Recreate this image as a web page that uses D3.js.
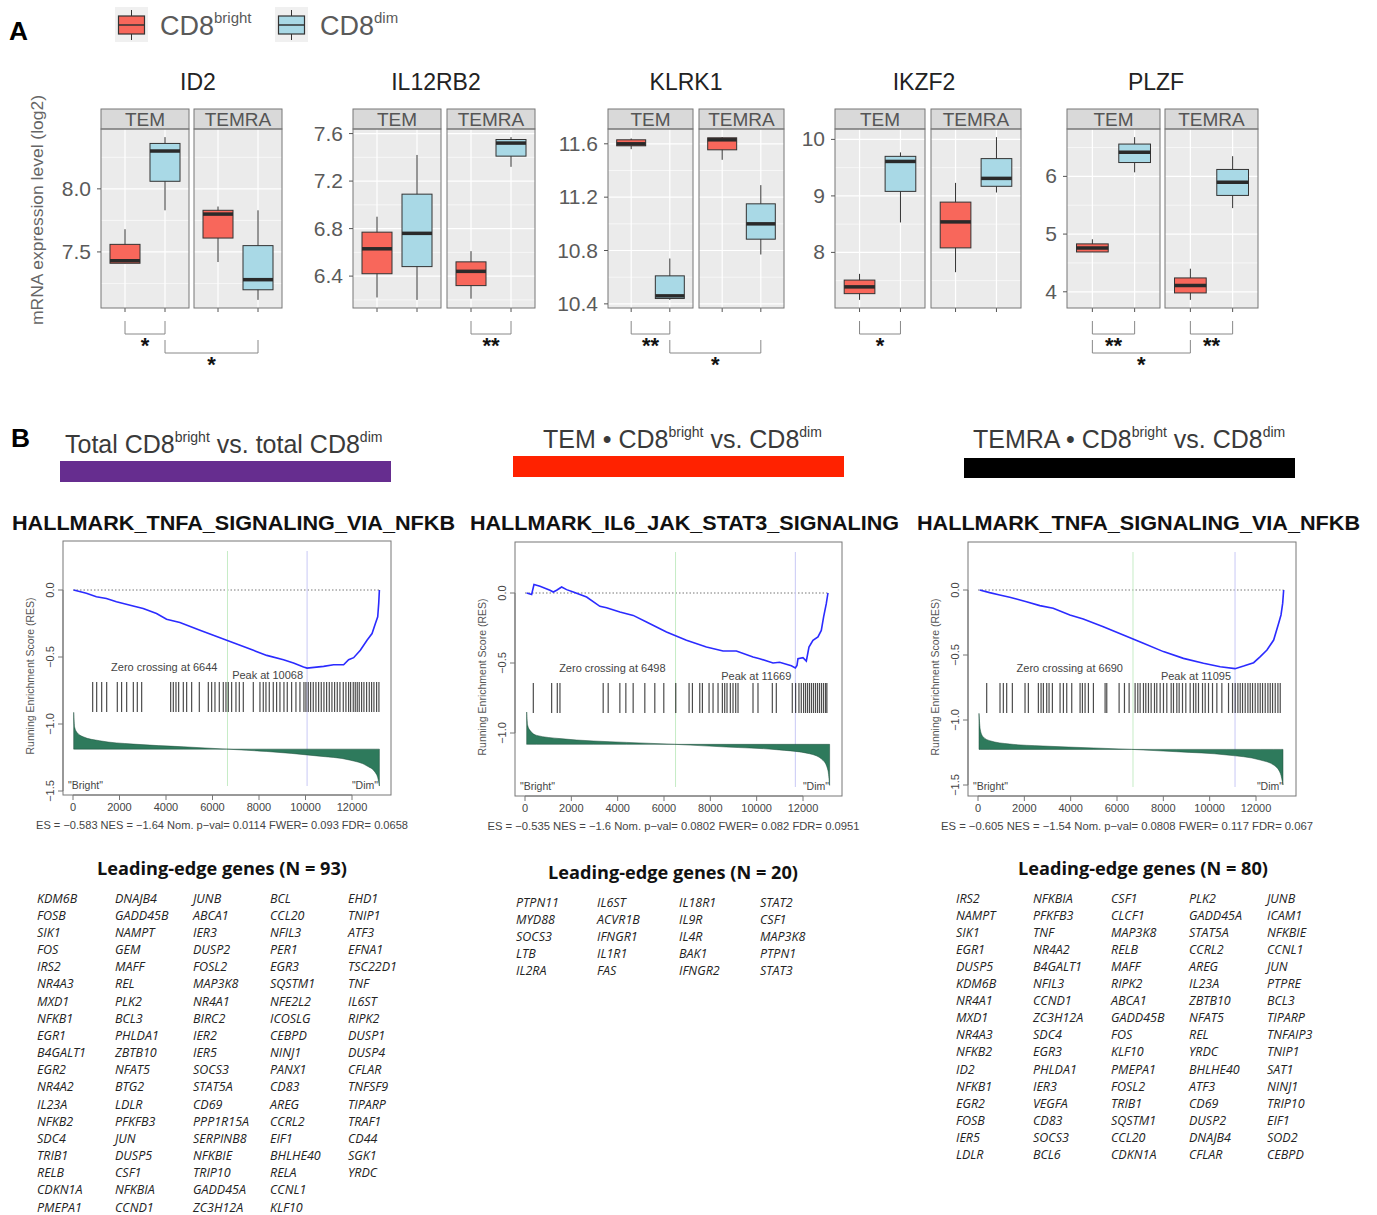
<!DOCTYPE html>
<html lang="en">
<head>
<meta charset="UTF-8">
<title>CD8 bright vs dim</title>
<script src="https://d3js.org/d3.v7.min.js"></script>
<style>
  body { margin: 0; background: #fff; }
  text { font-family: "Liberation Sans", Arial, sans-serif; }
  .gene { font-family: "Open Sans", sans-serif; font-style: italic; font-size: 12.5px; fill: #222; }
  .lehead { font-family: "Open Sans", sans-serif; font-weight: 700; font-size: 17px; fill: #111; }
</style>
</head>
<body>
<div id="fig"></div>
<script>
// ---------------- Panel A data ----------------
const geneNames = ["ID2", "IL12RB2", "KLRK1", "IKZF2", "PLZF"];
const subsets = ["TEM", "TEMRA"];
const groups = ["bright", "dim"];
// [low whisker, q1, median, q3, high whisker]; order: TEM bright, TEM dim, TEMRA bright, TEMRA dim
const id2Box = [[7.41, 7.41, 7.43, 7.56, 7.68], [7.83, 8.06, 8.30, 8.36, 8.41], [7.42, 7.61, 7.80, 7.83, 7.86], [7.12, 7.20, 7.28, 7.55, 7.83]];
const il12rb2Box = [[6.22, 6.42, 6.63, 6.77, 6.90], [6.20, 6.48, 6.76, 7.09, 7.42], [6.21, 6.32, 6.44, 6.52, 6.61], [7.32, 7.41, 7.52, 7.55, 7.57]];
const klrk1Box = [[11.56, 11.585, 11.60, 11.63, 11.64], [10.43, 10.44, 10.46, 10.61, 10.74], [11.48, 11.555, 11.63, 11.645, 11.65], [10.77, 10.885, 11.00, 11.15, 11.29]];
const ikzf2Box = [[7.16, 7.27, 7.39, 7.51, 7.62], [8.53, 9.08, 9.61, 9.70, 9.77], [7.65, 8.08, 8.54, 8.89, 9.23], [9.06, 9.17, 9.31, 9.66, 10.04]];
const plzfBox = [[4.69, 4.69, 4.76, 4.83, 4.91], [6.07, 6.24, 6.42, 6.56, 6.68], [3.86, 3.98, 4.11, 4.24, 4.40], [5.45, 5.67, 5.90, 6.12, 6.35]];
const id2Ticks = [7.5, 8.0], id2TickLabels = ["7.5", "8.0"];
const il12rb2Ticks = [6.4, 6.8, 7.2, 7.6], il12rb2TickLabels = ["6.4", "6.8", "7.2", "7.6"];
const klrk1Ticks = [10.4, 10.8, 11.2, 11.6], klrk1TickLabels = ["10.4", "10.8", "11.2", "11.6"];
const ikzf2Ticks = [8, 9, 10], ikzf2TickLabels = ["8", "9", "10"];
const plzfTicks = [4, 5, 6], plzfTickLabels = ["4", "5", "6"];
// significance brackets: from [subset, group] to [subset, group]
const significance = [
  { gene: "ID2", a: [0, 0], b: [0, 1], level: 0, label: "*" },
  { gene: "ID2", a: [0, 1], b: [1, 1], level: 1, label: "*" },
  { gene: "IL12RB2", a: [1, 0], b: [1, 1], level: 0, label: "**" },
  { gene: "KLRK1", a: [0, 0], b: [0, 1], level: 0, label: "**" },
  { gene: "KLRK1", a: [0, 1], b: [1, 1], level: 1, label: "*" },
  { gene: "IKZF2", a: [0, 0], b: [0, 1], level: 0, label: "*" },
  { gene: "PLZF", a: [0, 0], b: [0, 1], level: 0, label: "**" },
  { gene: "PLZF", a: [1, 0], b: [1, 1], level: 0, label: "**" },
  { gene: "PLZF", a: [0, 0], b: [1, 0], level: 1, label: "*" }
];

// ---------------- Panel B data ----------------
const comparisonTitles = [["Total CD8", "bright", " vs. total CD8", "dim"], ["TEM \u2022 CD8", "bright", " vs. CD8", "dim"], ["TEMRA \u2022 CD8", "bright", " vs. CD8", "dim"]];
const comparisonColors = ["#662d8f", "#ff2200", "#000000"];
const hallmarkNames = ["HALLMARK_TNFA_SIGNALING_VIA_NFKB", "HALLMARK_IL6_JAK_STAT3_SIGNALING", "HALLMARK_TNFA_SIGNALING_VIA_NFKB"];
const zeroCrossings = [6644, 6498, 6690];
const peaks = [10068, 11669, 11095];
const statLines = [
  "ES = \u22120.583  NES = \u22121.64 Nom. p\u2212val= 0.0114 FWER= 0.093 FDR= 0.0658",
  "ES = \u22120.535  NES = \u22121.6 Nom. p\u2212val= 0.0802 FWER= 0.082 FDR= 0.0951",
  "ES = \u22120.605  NES = \u22121.54 Nom. p\u2212val= 0.0808 FWER= 0.117 FDR= 0.067"
];
// running enrichment score [rank, RES]
const esTotal = [[29, 0], [575, -0.025], [1006, -0.05], [1437, -0.063], [1868, -0.088], [2587, -0.12], [3018, -0.138], [3593, -0.175], [4024, -0.218], [4598, -0.243], [5461, -0.30], [6610, -0.375], [7760, -0.45], [8335, -0.488], [9053, -0.52], [9484, -0.545], [9915, -0.575], [10068, -0.583], [10778, -0.57], [11209, -0.558], [11640, -0.558], [11855, -0.52], [12071, -0.505], [12358, -0.45], [12646, -0.375], [12862, -0.325], [13006, -0.25], [13106, -0.2], [13149, -0.1], [13178, 0]];
const esTem = [[72, 0], [287, -0.01], [388, 0.06], [647, 0.048], [1078, 0.02], [1221, 0.007], [1365, 0.02], [1581, 0.043], [1796, 0.024], [2084, 0.007], [2659, -0.029], [3233, -0.095], [3521, -0.105], [4096, -0.136], [4670, -0.16], [5245, -0.207], [6107, -0.279], [6969, -0.338], [7832, -0.386], [8550, -0.414], [9125, -0.414], [9843, -0.457], [10130, -0.469], [10705, -0.5], [10992, -0.495], [11496, -0.52], [11669, -0.535], [11740, -0.517], [11783, -0.469], [11999, -0.462], [12143, -0.486], [12258, -0.386], [12430, -0.338], [12646, -0.314], [12790, -0.267], [12890, -0.171], [13005, -0.076], [13077, 0]];
const esTemra = [[72, 0], [505, -0.02], [937, -0.038], [1370, -0.056], [1658, -0.069], [2091, -0.09], [2668, -0.12], [3245, -0.141], [3966, -0.192], [4542, -0.223], [5408, -0.282], [6273, -0.346], [7138, -0.41], [8003, -0.474], [8868, -0.526], [9734, -0.564], [10455, -0.59], [11095, -0.605], [11464, -0.585], [11897, -0.559], [12185, -0.513], [12473, -0.462], [12762, -0.385], [12978, -0.256], [13079, -0.192], [13151, -0.103], [13194, 0]];
// gene set hit ranks
const hitsTotal = [846, 1018, 1233, 1448, 1906, 2090, 2308, 2595, 2766, 2953, 4200, 4315, 4429, 4544, 4745, 4888, 5103, 5433, 5820, 5963, 6106, 6292, 6464, 6579, 6680, 6823, 7009, 7153, 7325, 7755, 8041, 8184, 8299, 8442, 8614, 8757, 8901, 9073, 9216, 9403, 9589, 9761, 9933, 10019, 10119, 10220, 10334, 10449, 10564, 10678, 10793, 10908, 11023, 11137, 11252, 11367, 11481, 11625, 11739, 11854, 11940, 12054, 12140, 12226, 12312, 12413, 12513, 12628, 12743, 12843, 12943, 13058, 13158];
const hitsTem = [359, 1150, 1394, 1509, 3375, 3591, 4095, 4353, 4669, 5172, 5603, 5991, 6508, 7082, 7227, 7543, 7658, 7945, 8117, 8333, 8520, 8620, 8720, 8864, 8979, 9095, 9195, 9842, 10057, 10676, 10848, 11538, 11682, 11825, 11926, 12026, 12112, 12199, 12285, 12371, 12457, 12543, 12629, 12715, 12801, 12887, 12973, 13031];
const hitsTemra = [375, 950, 1094, 1238, 1483, 2030, 2174, 2606, 2722, 2822, 2966, 3067, 3211, 3542, 3686, 3830, 4046, 4406, 4507, 4622, 4766, 4982, 5486, 5558, 6091, 6322, 6523, 6782, 6898, 6998, 7142, 7243, 7358, 7474, 7618, 7718, 7862, 8006, 8150, 8338, 8438, 8582, 8683, 8827, 8971, 9158, 9302, 9403, 9518, 9691, 9806, 9950, 10123, 10310, 10526, 10814, 10987, 11102, 11218, 11318, 11419, 11534, 11650, 11750, 11851, 11966, 12082, 12182, 12283, 12398, 12514, 12614, 12715, 12830, 12946, 13046];
// ranked list metric drawn in RES units [rank, value]; baseline value separately
const metricTotal = [[29, -0.913], [72, -1.025], [172, -1.063], [431, -1.095], [1150, -1.125], [2587, -1.15], [4742, -1.17], [6610, -1.1875], [8335, -1.205], [10490, -1.238], [11927, -1.27], [12646, -1.313], [13006, -1.363], [13106, -1.40], [13178, -1.463]];
const metricTem = [[72, -0.85], [115, -0.945], [216, -0.981], [503, -1.017], [1509, -1.040], [2946, -1.057], [4383, -1.067], [6467, -1.081], [8694, -1.100], [10849, -1.119], [12286, -1.148], [12862, -1.195], [13077, -1.267], [13149, -1.374]];
const metricTemra = [[43, -0.949], [101, -1.077], [216, -1.128], [505, -1.159], [1370, -1.185], [2812, -1.20], [4975, -1.215], [6633, -1.226], [8580, -1.244], [10743, -1.269], [12185, -1.308], [12762, -1.346], [13050, -1.41], [13165, -1.50]];
const metricBaselines = [-1.1875, -1.081, -1.226];
const xTicks = [0, 2000, 4000, 6000, 8000, 10000, 12000];

// leading-edge genes (columns)
const leadingTotal = [
  ["KDM6B", "FOSB", "SIK1", "FOS", "IRS2", "NR4A3", "MXD1", "NFKB1", "EGR1", "B4GALT1", "EGR2", "NR4A2", "IL23A", "NFKB2", "SDC4", "TRIB1", "RELB", "CDKN1A", "PMEPA1"],
  ["DNAJB4", "GADD45B", "NAMPT", "GEM", "MAFF", "REL", "PLK2", "BCL3", "PHLDA1", "ZBTB10", "NFAT5", "BTG2", "LDLR", "PFKFB3", "JUN", "DUSP5", "CSF1", "NFKBIA", "CCND1"],
  ["JUNB", "ABCA1", "IER3", "DUSP2", "FOSL2", "MAP3K8", "NR4A1", "BIRC2", "IER2", "IER5", "SOCS3", "STAT5A", "CD69", "PPP1R15A", "SERPINB8", "NFKBIE", "TRIP10", "GADD45A", "ZC3H12A"],
  ["BCL", "CCL20", "NFIL3", "PER1", "EGR3", "SQSTM1", "NFE2L2", "ICOSLG", "CEBPD", "NINJ1", "PANX1", "CD83", "AREG", "CCRL2", "EIF1", "BHLHE40", "RELA", "CCNL1", "KLF10"],
  ["EHD1", "TNIP1", "ATF3", "EFNA1", "TSC22D1", "TNF", "IL6ST", "RIPK2", "DUSP1", "DUSP4", "CFLAR", "TNFSF9", "TIPARP", "TRAF1", "CD44", "SGK1", "YRDC"]
];
const leadingTem = [
  ["PTPN11", "MYD88", "SOCS3", "LTB", "IL2RA"],
  ["IL6ST", "ACVR1B", "IFNGR1", "IL1R1", "FAS"],
  ["IL18R1", "IL9R", "IL4R", "BAK1", "IFNGR2"],
  ["STAT2", "CSF1", "MAP3K8", "PTPN1", "STAT3"]
];
const leadingTemra = [
  ["IRS2", "NAMPT", "SIK1", "EGR1", "DUSP5", "KDM6B", "NR4A1", "MXD1", "NR4A3", "NFKB2", "ID2", "NFKB1", "EGR2", "FOSB", "IER5", "LDLR"],
  ["NFKBIA", "PFKFB3", "TNF", "NR4A2", "B4GALT1", "NFIL3", "CCND1", "ZC3H12A", "SDC4", "EGR3", "PHLDA1", "IER3", "VEGFA", "CD83", "SOCS3", "BCL6"],
  ["CSF1", "CLCF1", "MAP3K8", "RELB", "MAFF", "RIPK2", "ABCA1", "GADD45B", "FOS", "KLF10", "PMEPA1", "FOSL2", "TRIB1", "SQSTM1", "CCL20", "CDKN1A"],
  ["PLK2", "GADD45A", "STAT5A", "CCRL2", "AREG", "IL23A", "ZBTB10", "NFAT5", "REL", "YRDC", "BHLHE40", "ATF3", "CD69", "DUSP2", "DNAJB4", "CFLAR"],
  ["JUNB", "ICAM1", "NFKBIE", "CCNL1", "JUN", "PTPRE", "BCL3", "TIPARP", "TNFAIP3", "TNIP1", "SAT1", "NINJ1", "TRIP10", "EIF1", "SOD2", "CEBPD"]
];

// ---------------- setup ----------------
const W = 1377, H = 1215;
const brightFill = "#f8675b", dimFill = "#a9d9e6";
const svg = d3.select("#fig").append("svg").attr("width", W).attr("height", H);

function supText(sel, parts, big, small, rise) {
  parts.forEach((p, i) => {
    const isSup = i % 2 === 1;
    sel.append("tspan")
      .attr("font-size", isSup ? small : big)
      .attr("dy", isSup ? -rise : (i === 0 ? 0 : rise))
      .text(p);
  });
}

// ---------------- Panel A ----------------
svg.append("text").attr("x", 9).attr("y", 40)
  .attr("font-size", 25).attr("font-weight", 900).attr("font-family", "DejaVu Sans, sans-serif")
  .attr("textLength", 19).attr("lengthAdjust", "spacingAndGlyphs").text("A");

// legend
[{ g: "bright", fill: brightFill, x: 115 }, { g: "dim", fill: dimFill, x: 275 }].forEach(it => {
  const k = svg.append("g");
  k.append("rect").attr("x", it.x).attr("y", 7).attr("width", 33).attr("height", 35).attr("fill", "#f0f0f0");
  k.append("line").attr("x1", it.x + 16.5).attr("x2", it.x + 16.5).attr("y1", 10).attr("y2", 40).attr("stroke", "#333");
  k.append("rect").attr("x", it.x + 3.5).attr("y", 16).attr("width", 26).attr("height", 18)
    .attr("fill", it.fill).attr("stroke", "#333").attr("stroke-width", 1.2);
  k.append("line").attr("x1", it.x + 3.5).attr("x2", it.x + 29.5).attr("y1", 25).attr("y2", 25).attr("stroke", "#333").attr("stroke-width", 1.5);
  const t = k.append("text").attr("x", it.x + 45).attr("y", 35).attr("fill", "#5a5a5a");
  supText(t, ["CD8", it.g], 27, 15, 12);
});

svg.append("text")
  .attr("transform", "translate(43,210) rotate(-90)")
  .attr("text-anchor", "middle").attr("font-size", 17).attr("fill", "#666")
  .attr("textLength", 230).attr("lengthAdjust", "spacingAndGlyphs")
  .text("mRNA expression level (log2)");

const boxSets = [id2Box, il12rb2Box, klrk1Box, ikzf2Box, plzfBox];
const tickSets = [id2Ticks, il12rb2Ticks, klrk1Ticks, ikzf2Ticks, plzfTicks];
const tickLabelSets = [id2TickLabels, il12rb2TickLabels, klrk1TickLabels, ikzf2TickLabels, plzfTickLabels];
// facet layout: left edge of TEM facet, width, gap, title centre
const facetLayout = [[101, 88, 5, 198], [353, 88, 6, 436], [608, 85, 6, 686], [835, 90, 6, 924], [1067, 93, 5, 1156]];
const stripTop = 109, stripH = 20, panelTop = 129, panelBottom = 308;

const xPositions = {};

geneNames.forEach((gene, gi) => {
  const [x0, fw, gap, tx] = facetLayout[gi];
  const stats = boxSets[gi];
  const lo = d3.min(stats, d => d[0]), hi = d3.max(stats, d => d[4]);
  const pad = (hi - lo) * 0.05;
  const y = d3.scaleLinear().domain([lo - pad, hi + pad]).range([panelBottom, panelTop]);
  const ticks = tickSets[gi];
  const step = ticks[1] - ticks[0];
  const minor = [];
  for (let v = ticks[0] - step / 2; v <= y.domain()[1]; v += step) {
    if (v >= y.domain()[0]) minor.push(v);
  }
  const g = svg.append("g");

  g.append("text").attr("x", tx).attr("y", 90)
    .attr("text-anchor", "middle").attr("font-size", 23).attr("fill", "#222")
    .attr("font-family", "Open Sans, sans-serif").text(gene);

  xPositions[gene] = [];
  subsets.forEach((sub, si) => {
    const fx = x0 + si * (fw + gap);
    const x = d3.scalePoint().domain(groups).range([fx, fx + fw]).padding(0.6);
    xPositions[gene].push(x);
    const bw = x.step() * 0.75;

    g.append("rect").attr("x", fx).attr("y", panelTop).attr("width", fw).attr("height", panelBottom - panelTop).attr("fill", "#ebebeb");
    g.selectAll(null).data(minor).enter().append("line")
      .attr("x1", fx).attr("x2", fx + fw).attr("y1", d => y(d)).attr("y2", d => y(d))
      .attr("stroke", "#fff").attr("stroke-width", 0.6);
    g.selectAll(null).data(ticks).enter().append("line")
      .attr("x1", fx).attr("x2", fx + fw).attr("y1", d => y(d)).attr("y2", d => y(d))
      .attr("stroke", "#fff").attr("stroke-width", 1.2);
    g.selectAll(null).data(groups).enter().append("line")
      .attr("x1", d => x(d)).attr("x2", d => x(d)).attr("y1", panelTop).attr("y2", panelBottom)
      .attr("stroke", "#fff").attr("stroke-width", 1.2);

    groups.forEach((grp, k) => {
      const s = stats[si * 2 + k];
      const cx = x(grp);
      g.append("line").attr("x1", cx).attr("x2", cx).attr("y1", y(s[4])).attr("y2", y(s[0]))
        .attr("stroke", "#333").attr("stroke-width", 1);
      g.append("rect").attr("x", cx - bw / 2).attr("y", y(s[3])).attr("width", bw)
        .attr("height", Math.max(1, y(s[1]) - y(s[3])))
        .attr("fill", k === 0 ? brightFill : dimFill).attr("stroke", "#333").attr("stroke-width", 1);
      g.append("line").attr("x1", cx - bw / 2).attr("x2", cx + bw / 2).attr("y1", y(s[2])).attr("y2", y(s[2]))
        .attr("stroke", "#2a2a2a").attr("stroke-width", 3.5);
    });

    // x ticks without labels
    g.selectAll(null).data(groups).enter().append("line")
      .attr("x1", d => x(d)).attr("x2", d => x(d)).attr("y1", panelBottom).attr("y2", panelBottom + 4)
      .attr("stroke", "#555");

    g.append("rect").attr("x", fx).attr("y", stripTop).attr("width", fw).attr("height", stripH)
      .attr("fill", "#d9d9d9").attr("stroke", "#777").attr("stroke-width", 1);
    g.append("rect").attr("x", fx).attr("y", panelTop).attr("width", fw).attr("height", panelBottom - panelTop)
      .attr("fill", "none").attr("stroke", "#777").attr("stroke-width", 1);
    g.append("text").attr("x", fx + fw / 2).attr("y", stripTop + 17)
      .attr("text-anchor", "middle").attr("font-size", 19).attr("fill", "#555").text(sub);
  });

  // y axis
  g.selectAll(null).data(ticks).enter().append("line")
    .attr("x1", x0 - 4).attr("x2", x0).attr("y1", d => y(d)).attr("y2", d => y(d)).attr("stroke", "#555");
  g.selectAll(null).data(ticks).enter().append("text")
    .attr("x", x0 - 10).attr("y", d => y(d) + 7)
    .attr("text-anchor", "end").attr("font-size", 21).attr("fill", "#5a5a5a")
    .text((d, i) => tickLabelSets[gi][i]);
});

// significance brackets
const levelY = [[321, 334, 353], [340, 353, 372]];
significance.forEach(s => {
  const xs = xPositions[s.gene];
  const xa = xs[s.a[0]](groups[s.a[1]]), xb = xs[s.b[0]](groups[s.b[1]]);
  const [ya, yb, yl] = levelY[s.level];
  svg.append("path").attr("d", `M${xa},${ya}V${yb}H${xb}V${ya}`)
    .attr("fill", "none").attr("stroke", "#888").attr("stroke-width", 1);
  svg.append("text").attr("x", (xa + xb) / 2).attr("y", yl)
    .attr("text-anchor", "middle").attr("font-size", 22).attr("font-weight", 700).attr("fill", "#111")
    .text(s.label);
});

// ---------------- Panel B ----------------
svg.append("text").attr("x", 11).attr("y", 447)
  .attr("font-size", 25).attr("font-weight", 900).attr("font-family", "DejaVu Sans, sans-serif")
  .attr("textLength", 19).attr("lengthAdjust", "spacingAndGlyphs").text("B");

const gseaLayout = [
  { left: 63, right: 391, top: 541, bottom: 795, x0: 73, x12: 352, y0: 590, y5: 657, titleX: 65, titleY: 453, bar: [60, 391, 461, 482], hm: [12, 443], yTicks: [0, -0.5, -1, -1.5] },
  { left: 515, right: 842, top: 542, bottom: 796, x0: 525, x12: 803, y0: 593, y5: 663, titleX: 543, titleY: 448, bar: [513, 844, 456, 477], hm: [470, 429], yTicks: [0, -0.5, -1] },
  { left: 968, right: 1296, top: 542, bottom: 796, x0: 978, x12: 1256, y0: 590, y5: 655, titleX: 973, titleY: 448, bar: [964, 1295, 458, 478], hm: [917, 443], yTicks: [0, -0.5, -1, -1.5] }
];
const esSets = [esTotal, esTem, esTemra];
const hitSets = [hitsTotal, hitsTem, hitsTemra];
const metricSets = [metricTotal, metricTem, metricTemra];
const yTickLabel = v => v === 0 ? "0.0" : "\u2212" + Math.abs(v).toFixed(1);

gseaLayout.forEach((L, i) => {
  const g = svg.append("g");
  const x = d3.scaleLinear().domain([0, 12000]).range([L.x0, L.x12]);
  const y = d3.scaleLinear().domain([0, -0.5]).range([L.y0, L.y5]);

  const t = g.append("text").attr("x", L.titleX).attr("y", L.titleY).attr("fill", "#3a3a3a");
  supText(t, comparisonTitles[i], 25, 14, 11);
  g.append("rect").attr("x", L.bar[0]).attr("y", L.bar[2]).attr("width", L.bar[1] - L.bar[0]).attr("height", L.bar[3] - L.bar[2])
    .attr("fill", comparisonColors[i]);

  g.append("text").attr("x", L.hm[0]).attr("y", 530)
    .attr("font-size", 21).attr("font-weight", 700).attr("fill", "#111")
    .attr("textLength", L.hm[1]).attr("lengthAdjust", "spacingAndGlyphs").text(hallmarkNames[i]);

  // guide lines
  const lastRank = esSets[i][esSets[i].length - 1][0];
  g.append("line").attr("x1", x(0)).attr("x2", x(lastRank)).attr("y1", y(0)).attr("y2", y(0))
    .attr("stroke", "#777").attr("stroke-dasharray", "1.5,2");
  g.append("line").attr("x1", x(zeroCrossings[i])).attr("x2", x(zeroCrossings[i])).attr("y1", L.top + 10).attr("y2", L.bottom - 9)
    .attr("stroke", "#c6ecc6").attr("stroke-width", 1);
  g.append("line").attr("x1", x(peaks[i])).attr("x2", x(peaks[i])).attr("y1", L.top + 10).attr("y2", L.bottom - 9)
    .attr("stroke", "#c8c8f5").attr("stroke-width", 1);

  // ranked metric
  const base = metricBaselines[i];
  g.append("path").datum(metricSets[i])
    .attr("d", d3.area().x(d => x(d[0])).y0(y(base)).y1(d => y(d[1])).curve(d3.curveMonotoneX))
    .attr("fill", "#2e7a5c").attr("stroke", "#1d4d3a").attr("stroke-width", 0.5);

  // hits
  g.selectAll(null).data(hitSets[i]).enter().append("line")
    .attr("x1", d => x(d)).attr("x2", d => x(d)).attr("y1", L.top + 141).attr("y2", L.top + 171)
    .attr("stroke", "#000").attr("stroke-opacity", 0.7).attr("stroke-width", 1.2);

  // ES curve
  g.append("path").datum(esSets[i])
    .attr("d", d3.line().x(d => x(d[0])).y(d => y(d[1])))
    .attr("fill", "none").attr("stroke", "#2b2bff").attr("stroke-width", 1.6);

  g.append("text").attr("x", x(zeroCrossings[i]) - 10).attr("y", L.top + 130)
    .attr("text-anchor", "end").attr("font-size", 11).attr("fill", "#444").text("Zero crossing at " + zeroCrossings[i]);
  g.append("text").attr("x", x(peaks[i]) - 4).attr("y", L.top + 138)
    .attr("text-anchor", "end").attr("font-size", 11).attr("fill", "#444").text("Peak at " + peaks[i]);
  g.append("text").attr("x", L.left + 5).attr("y", L.bottom - 6)
    .attr("font-size", 10.5).attr("fill", "#444").text('"Bright"');
  g.append("text").attr("x", L.right - 13).attr("y", L.bottom - 6)
    .attr("text-anchor", "end").attr("font-size", 10.5).attr("fill", "#444").text('"Dim"');

  // frame
  g.append("rect").attr("x", L.left).attr("y", L.top).attr("width", L.right - L.left).attr("height", L.bottom - L.top)
    .attr("fill", "none").attr("stroke", "#777").attr("stroke-width", 1);

  // x axis
  g.append("line").attr("x1", x(0)).attr("x2", x(12000)).attr("y1", L.bottom).attr("y2", L.bottom).attr("stroke", "#777");
  g.selectAll(null).data(xTicks).enter().append("line")
    .attr("x1", d => x(d)).attr("x2", d => x(d)).attr("y1", L.bottom).attr("y2", L.bottom + 5).attr("stroke", "#777");
  g.selectAll(null).data(xTicks).enter().append("text")
    .attr("x", d => x(d)).attr("y", L.bottom + 16)
    .attr("text-anchor", "middle").attr("font-size", 11).attr("fill", "#444").text(d => d);

  // y axis
  const yt = L.yTicks;
  g.append("line").attr("x1", L.left).attr("x2", L.left).attr("y1", y(yt[0])).attr("y2", y(yt[yt.length - 1])).attr("stroke", "#777");
  g.selectAll(null).data(yt).enter().append("line")
    .attr("x1", L.left - 5).attr("x2", L.left).attr("y1", d => y(d)).attr("y2", d => y(d)).attr("stroke", "#777");
  g.selectAll(null).data(yt).enter().append("text")
    .attr("transform", d => `translate(${L.left - 9},${y(d)}) rotate(-90)`)
    .attr("text-anchor", "middle").attr("font-size", 11).attr("fill", "#444").text(yTickLabel);
  g.append("text")
    .attr("transform", `translate(${L.left - 29},${(L.top + L.bottom) / 2 + 8}) rotate(-90)`)
    .attr("text-anchor", "middle").attr("font-size", 10.5).attr("fill", "#555")
    .text("Running Enrichment Score (RES)");

  g.append("text").attr("x", (L.left + L.right) / 2 - 5).attr("y", L.bottom + 34)
    .attr("text-anchor", "middle").attr("font-size", 11).attr("fill", "#444")
    .attr("textLength", 372).attr("lengthAdjust", "spacingAndGlyphs").text(statLines[i]);
});

// leading-edge gene lists
const leadingSets = [leadingTotal, leadingTem, leadingTemra];
const leadingLayout = [
  { cx: 222, ty: 875, cols: [37, 115, 193, 270, 348], row0: 898, dy: 17.17 },
  { cx: 673, ty: 879, cols: [516, 597, 679, 760], row0: 902, dy: 17.2 },
  { cx: 1143, ty: 875, cols: [956, 1033, 1111, 1189, 1267], row0: 898, dy: 17.1 }
];
leadingSets.forEach((cols, i) => {
  const L = leadingLayout[i];
  const n = d3.sum(cols, c => c.length);
  svg.append("text").attr("class", "lehead").attr("x", L.cx).attr("y", L.ty)
    .attr("text-anchor", "middle").attr("textLength", 250).attr("lengthAdjust", "spacingAndGlyphs")
    .text(`Leading-edge genes (N = ${n})`);
  cols.forEach((col, c) => {
    svg.selectAll(null).data(col).enter().append("text")
      .attr("class", "gene")
      .attr("x", L.cols[c]).attr("y", (d, r) => L.row0 + r * L.dy + 4.5)
      .text(d => d);
  });
});
</script>
</body>
</html>
